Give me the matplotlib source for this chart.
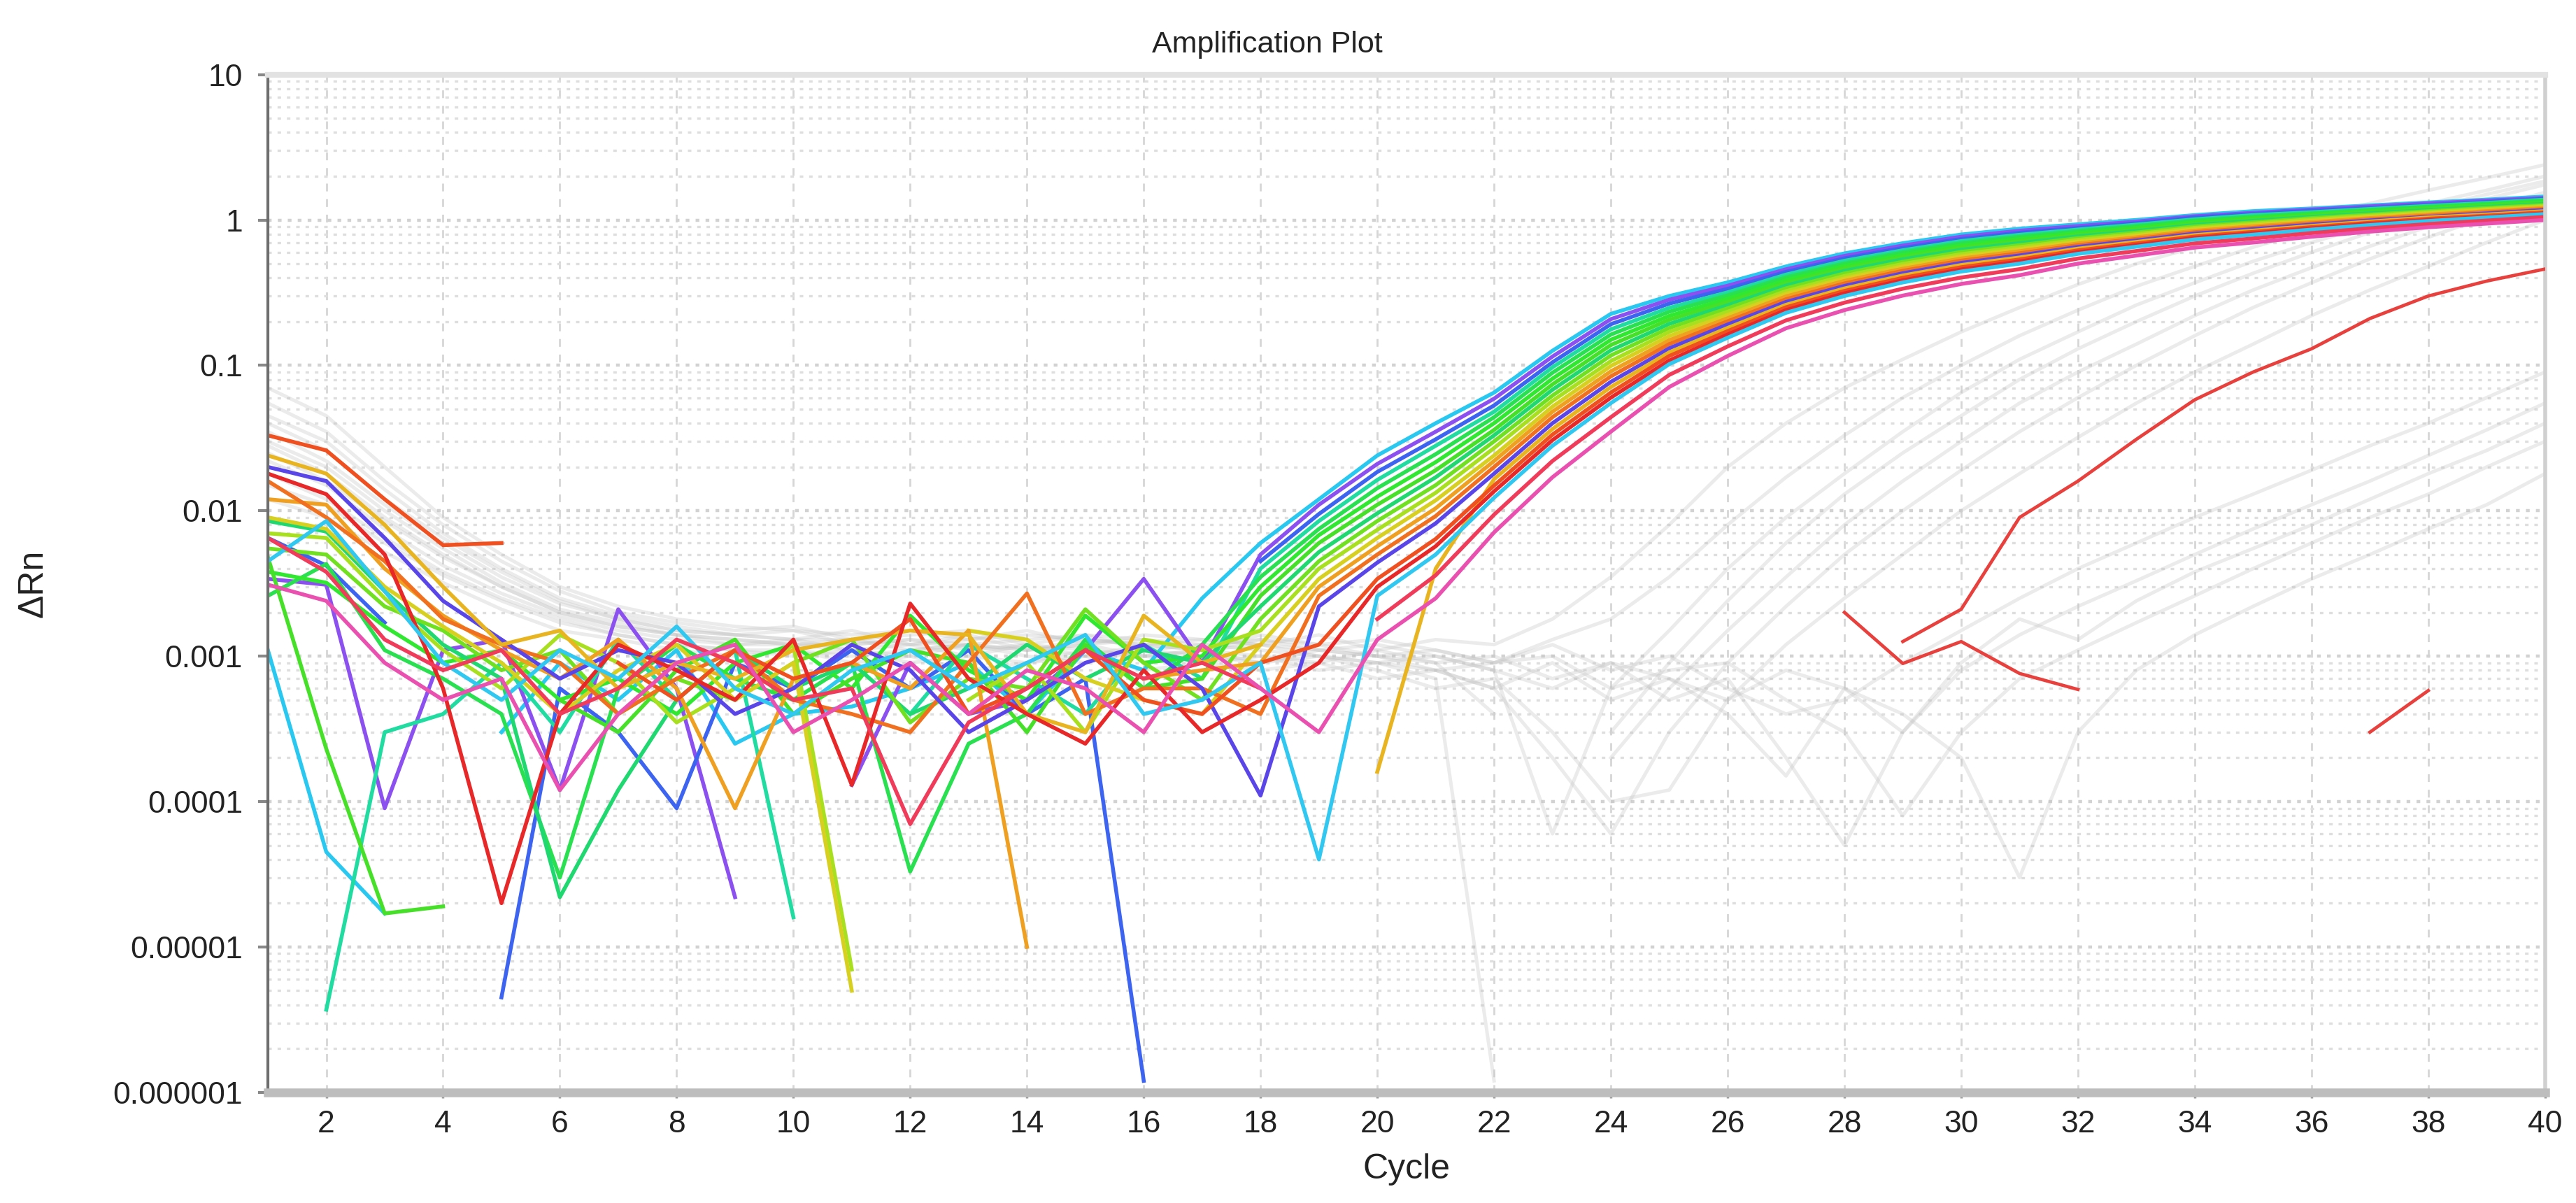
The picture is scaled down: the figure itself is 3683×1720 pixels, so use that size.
import numpy as np
import matplotlib
matplotlib.use('Agg')
import matplotlib.pyplot as plt
from matplotlib.ticker import LogLocator, NullFormatter

plt.rcParams['font.family'] = ['Liberation Sans', 'DejaVu Sans']

N = np.nan  # negative delta Rn -> not drawn on a log axis

cycles = list(range(1, 41))

# amplified wells, delta Rn for cycles 1..40
well_01 = [.0011, .000045, .000017, N, .0003, .0009, .0005, .0011, .00025, .0004,
           .00045, .0006, .0009, .0004, .0011, .0008, .0025, .006, .012, .024,
           .040, .065, .126, .226, .30, .372, .479, .589, .692, .794,
           .871, .933, 1.0, 1.08, 1.15, 1.20, 1.26, 1.32, 1.38, 1.45]
well_02 = [.0034, .0031, .00009, .0011, .0013, .00012, .0021, .0006, .000022, N,
           .00013, .0009, .0004, .0005, .0011, .0034, .0009, .005, .011, .021,
           .035, .059, .115, .208, .283, .353, .458, .566, .667, .767,
           .843, .908, .975, 1.06, 1.12, 1.18, 1.24, 1.30, 1.36, 1.42]
well_03 = [.0065, .0042, .0017, N, .0000045, .0006, .0003, .00009, .0009, .0006,
           .0011, .0006, .0011, .0004, .0007, .0000012, N, .0045, .0095, .0185,
           .031, .053, .105, .192, .266, .336, .440, .545, .643, .741,
           .817, .883, .951, 1.04, 1.10, 1.16, 1.21, 1.27, 1.33, 1.40]
well_04 = [N, .0000037, .0003, .0004, .0009, .0003, .0013, .0005, .0011, .000016,
           N, .0004, .0012, .0007, .0004, .0012, .0007, .004, .0085, .0163,
           .028, .048, .097, .177, .249, .318, .421, .524, .619, .716,
           .791, .859, .929, 1.01, 1.08, 1.13, 1.19, 1.25, 1.31, 1.38]
well_05 = [.0026, .0043, .0011, .0007, .0004, .00003, .0006, .0012, .0007, .0005,
           .0009, .000033, .00025, .0004, .0013, .0006, .0012, .0035, .0075, .0143,
           .0245, .044, .089, .163, .234, .303, .403, .502, .598, .692,
           .766, .836, .906, .989, 1.05, 1.11, 1.17, 1.23, 1.29, 1.36]
well_06 = [.0038, .0032, .0016, .0009, .0011, .0005, .0007, .0004, .0009, .0012,
           .0006, .0019, .0008, .0005, .0019, .0009, .0010, .003, .0068, .0125,
           .0216, .040, .081, .150, .219, .287, .385, .483, .575, .668,
           .740, .813, .883, .966, 1.03, 1.09, 1.15, 1.21, 1.27, 1.33]
well_07 = [.0048, .00023, .000017, .000019, N, .0005, .0003, .0008, .0013, .0004,
           .0007, .0011, .0009, .0003, .0012, .0006, .0007, .0026, .006, .011,
           .019, .036, .074, .138, .206, .273, .369, .465, .556, .646,
           .716, .791, .861, .944, 1.01, 1.07, 1.13, 1.19, 1.25, 1.31]
well_08 = [.0085, .0072, .0028, .0012, .0007, .000022, .00012, .0005, .0011, .0006,
           .0009, .0004, .0006, .0012, .0007, .0011, .0009, .0022, .0052, .0096,
           .017, .033, .068, .127, .193, .259, .354, .446, .536, .624,
           .693, .771, .839, .923, .986, 1.05, 1.11, 1.17, 1.23, 1.29]
well_09 = [.0055, .005, .0022, .0015, .0008, .0011, .0004, .0007, .0005, .0009,
           .0013, .00035, .0007, .0006, .0021, .0009, .0005, .0018, .0045, .0085,
           .015, .030, .062, .117, .181, .247, .339, .429, .516, .603,
           .671, .750, .820, .904, .964, 1.03, 1.09, 1.15, 1.21, 1.27]
well_10 = [.007, .0065, .0025, .0011, .0006, .0014, .0009, .00035, .0006, .0012,
           .000007, N, .0005, .0009, .0003, .0013, .0011, .0015, .004, .0074,
           .0133, .027, .057, .107, .170, .234, .324, .412, .498, .582,
           .650, .730, .800, .883, .944, 1.01, 1.07, 1.13, 1.19, 1.25]
well_11 = [.009, .0075, .003, .0016, .0009, .0004, .0008, .0012, .0005, .0009,
           .000005, N, .0015, .0013, .0007, .0005, .0004, .0012, .0034, .0065,
           .0118, .024, .052, .099, .159, .222, .311, .396, .480, .562,
           .630, .710, .780, .863, .923, .986, 1.05, 1.11, 1.17, 1.23]
well_12 = [.012, .011, .004, .0019, .0011, .0007, .0013, .0006, .00009, .0007,
           .0009, .0006, .0015, .00001, N, .0007, .0008, .0009, .003, .0057,
           .0104, .022, .048, .091, .149, .211, .298, .381, .462, .543,
           .610, .690, .760, .843, .904, .966, 1.03, 1.09, 1.15, 1.21]
well_13 = [.016, .009, .0045, .0018, .0012, .0009, .0004, .0007, .0011, .0005,
           .0004, .0003, .0009, .0027, .0004, .0006, .0006, .0004, .0026, .005,
           .0092, .020, .044, .084, .140, .201, .285, .366, .447, .525,
           .590, .671, .741, .824, .883, .948, 1.01, 1.07, 1.13, 1.19]
well_14 = [.020, .016, .0065, .0024, .0013, .0007, .0011, .0009, .0004, .0006,
           .0012, .0008, .0003, .0005, .0009, .0012, .0006, .00011, .0022, .0044,
           .0082, .018, .040, .077, .131, .191, .273, .352, .430, .507,
           .570, .653, .723, .805, .865, .929, .993, 1.05, 1.11, 1.17]
well_15 = [.024, .018, .008, .003, .0012, .0015, .0006, .0009, .0007, .0011,
           .0013, .0015, .0014, .0004, .0003, .0019, .0009, .0012, N, .00016,
           .004, .0165, .0365, .071, .123, .181, .261, .338, .415, .490,
           .552, .635, .706, .787, .845, .910, .975, 1.04, 1.09, 1.15]
well_16 = [.033, .026, .012, .0058, .006, N, .0009, .0005, .0011, .0007,
           .0009, .0018, .0004, .0006, .0011, .0005, .0004, .0009, .0012, .0034,
           .0064, .0149, .0334, .065, .116, .172, .251, .325, .400, .473,
           .535, .618, .689, .769, .828, .893, .957, 1.02, 1.07, 1.13]
well_17 = [.018, .013, .005, .0006, .00002, .0004, .0012, .0008, .0005, .0013,
           .00013, .0023, .0007, .0004, .00025, .0008, .0003, .0005, .0009, .003,
           .0057, .0136, .0306, .060, .108, .163, .240, .313, .385, .457,
           .518, .601, .671, .752, .809, .875, .940, 1.0, 1.05, 1.11]
well_18 = [.0045, .0085, .0028, .0009, .0005, .0011, .0007, .0016, .0006, .0004,
           .0008, .0011, .0006, .0009, .0014, .0004, .0005, .0009, .00004, .0026,
           .005, .0123, .028, .055, .102, .155, .230, .300, .372, .442,
           .501, .585, .655, .735, .792, .859, .923, .984, 1.04, 1.10]
well_19 = [.0065, .0038, .0013, .0008, .0011, .0004, .0006, .0013, .0009, .0005,
           .0006, .00007, .00035, .0006, .0011, .0007, .0009, .0006, N, .0018,
           .0036, .0094, .022, .044, .086, .135, .204, .270, .337, .402,
           .459, .543, .612, .690, .746, .813, .877, .938, .991, 1.05]
well_20 = [.0031, .0024, .0009, .0005, .0007, .00012, .0004, .0009, .0012, .0003,
           .0005, .0009, .0004, .0008, .0006, .0003, .0012, .0006, .0003, .0013,
           .0025, .0071, .017, .035, .071, .116, .180, .240, .302, .363,
           .417, .501, .569, .646, .700, .767, .832, .891, .944, 1.0]

# wells of the other (greyed out) targets
grey_01 = [.07, .045, .02, .009, .005, .003, .0022, .0018, .0016, .0015,
           .0014, .0015, .0013, .0014, .0013, .0012, .0013, .0012, .0014, .0011,
           .0013, .0012, .0018, .0035, .008, .02, .04, .07, .11, .17,
           .25, .36, .5, .65, .85, 1.05, 1.3, 1.6, 1.95, 2.4]
grey_02 = [.055, .035, .016, .008, .0045, .0028, .002, .0017, .0015, .0016,
           .0013, .0014, .0015, .0012, .0014, .0013, .0011, .0014, .0012, .0013,
           .0011, .0009, .0013, .0018, .0035, .008, .017, .033, .06, .1,
           .16, .24, .35, .48, .65, .85, 1.05, 1.3, 1.6, 2.0]
grey_03 = [.045, .03, .014, .007, .004, .0025, .0019, .0016, .0014, .0013,
           .0015, .0012, .0013, .0015, .0012, .0014, .0013, .0012, .0011, .0012,
           .001, .0008, .00006, .0006, .0015, .004, .009, .018, .035, .065,
           .11, .17, .26, .37, .52, .7, .92, 1.2, 1.5, 1.85]
grey_04 = [.035, .022, .011, .006, .0035, .0023, .0018, .0015, .0014, .0015,
           .0012, .0013, .0012, .0013, .0014, .0011, .0012, .0013, .0011, .0010,
           .0009, .0004, N, .0003, .0009, .0024, .006, .013, .025, .045,
           .08, .13, .2, .3, .43, .6, .82, 1.1, 1.4, 1.75]
grey_05 = [.028, .018, .009, .005, .003, .002, .0016, .0014, .0013, .0012,
           .0013, .0011, .0012, .0011, .0012, .0013, .0012, .0011, .0010, .0009,
           .0007, .0000012, N, .0002, .0006, .0015, .0035, .008, .016, .03,
           .055, .09, .14, .22, .33, .47, .66, .9, 1.2, 1.55]
grey_06 = [.022, .015, .0075, .0042, .0027, .0019, .0015, .0013, .0012, .0012,
           .0011, .0012, .0010, .0012, .0011, .0010, .0011, .0012, .0010, .0009,
           .0008, .0006, .0002, .00006, .0003, .0009, .0022, .005, .01, .019,
           .035, .06, .1, .16, .25, .37, .54, .76, 1.05, 1.4]
grey_07 = [.018, .012, .0065, .0038, .0025, .0018, .0014, .0012, .0011, .0011,
           .0010, .0011, .0012, .0010, .0009, .0011, .0010, .0009, .0010, .0008,
           .0006, .0007, .0003, .0001, .00012, .0005, .0012, .0025, .005, .01,
           .018, .032, .055, .09, .14, .22, .33, .48, .7, 1.0]
grey_08 = [.04, .026, .012, .0065, .0038, .0024, .0018, .0015, .0014, .0013,
           .0013, .0012, .0014, .0011, .0013, .0012, .0011, .0013, .0012, .0010,
           .0011, .0009, .0012, .0008, .0010, .0006, .0004, .0005, .0009, .0015,
           .0025, .004, .006, .009, .013, .019, .028, .04, .06, .09]
grey_09 = [.03, .02, .01, .0055, .0032, .0021, .0017, .0014, .0013, .0012,
           .0012, .0013, .0011, .0012, .0010, .0012, .0011, .0010, .0009, .0011,
           .0009, .0010, .0007, .0009, .0005, .0007, .0002, .00005, .0003, .0008,
           .0014, .0022, .0033, .005, .0075, .011, .016, .024, .036, .055]
grey_10 = [.025, .016, .0085, .0048, .003, .002, .0016, .0014, .0012, .0013,
           .0011, .0010, .0012, .0011, .0012, .0010, .0011, .0009, .0011, .0010,
           .0008, .0009, .0010, .0006, .0008, .0009, .0005, .0003, .00008, .0003,
           .0007, .0011, .0017, .0026, .004, .006, .009, .013, .02, .03]
grey_11 = [.015, .011, .006, .0036, .0024, .0017, .0014, .0012, .0011, .0010,
           .0011, .0009, .0010, .0009, .0011, .0010, .0009, .0010, .0008, .0009,
           .0010, .0008, .0006, .0009, .0007, .0005, .0008, .0006, .0004, .0002,
           .00003, .0003, .0008, .0014, .0022, .0034, .005, .0075, .011, .018]
grey_12 = [.012, .009, .0052, .0032, .0021, .0015, .0013, .0011, .0010, .0011,
           .0009, .0010, .0008, .0009, .0010, .0008, .0009, .0008, .0009, .0007,
           .0008, .0006, .0009, .0005, .0007, .0004, .00015, .0006, .0003, .0009,
           .0018, .0013, .0024, .0038, .0055, .008, .012, .018, .026, .04]

# late / failed red wells
red_01 = [N] * 27 + [.002, .00089, .00126, .00076, .00059] + [N] * 8
red_02 = [N] * 28 + [.00126, .0021, .009, .016, .031, .058, .09, .13, .21, .30, .38, .46]
red_03 = [N] * 36 + [.0003, .00058] + [N] * 2

x_ticks = list(range(2, 41, 2))
y_ticks = [1e-6, 1e-5, 1e-4, 1e-3, 1e-2, 1e-1, 1, 10]
y_tick_labels = ['0.000001', '0.00001', '0.0001', '0.001', '0.01', '0.1', '1', '10']

wells = [well_01, well_02, well_03, well_04, well_05, well_06, well_07,
         well_08, well_09, well_10, well_11, well_12, well_13, well_14,
         well_15, well_16, well_17, well_18, well_19, well_20]
greys = [grey_01, grey_02, grey_03, grey_04, grey_05, grey_06,
         grey_07, grey_08, grey_09, grey_10, grey_11, grey_12]
reds = [red_01, red_02, red_03]

well_colors = ['#28c8f0', '#8c50f0', '#3c64f0', '#20dca0', '#28e050',
               '#30e830', '#46e028', '#20d870', '#70e020', '#a8e020',
               '#d8d020', '#f0a020', '#f07020', '#5a46e8', '#e8b420',
               '#f05020', '#e82828', '#30c8f0', '#f03c5a', '#ea50b0']

fig = plt.figure(figsize=(36.83, 17.20), dpi=100)
ax = fig.add_axes([0.104, 0.092, 0.884, 0.846])
ax.set_yscale('log')
ax.set_xlim(1, 40)
ax.set_ylim(1e-6, 10)

# grid: dotted at every log step, dashed verticals at even cycles
ax.yaxis.set_minor_locator(LogLocator(base=10, subs=np.arange(2, 10)))
ax.yaxis.set_minor_formatter(NullFormatter())
ax.grid(True, axis='y', which='minor', color='#dedede', lw=2.4,
        linestyle=(0, (1.5, 2.5)))
ax.grid(True, axis='y', which='major', color='#d2d2d2', lw=3.2,
        linestyle=(0, (1.2, 2.0)))
ax.grid(True, axis='x', which='major', color='#d6d6d6', lw=2.0,
        linestyle=(0, (4, 4)))
ax.set_axisbelow(True)

for vals in greys:
    ax.plot(cycles, np.array(vals, dtype=float), color='#c0c0c0',
            alpha=0.3, lw=3.6, zorder=1)

for vals, col in zip(wells, well_colors):
    ax.plot(cycles, np.array(vals, dtype=float), color=col, lw=4.0, zorder=2)

for vals in reds:
    ax.plot(cycles, np.array(vals, dtype=float), color='#e8403c', lw=3.4, zorder=3)

ax.set_xticks(x_ticks)
ax.set_yticks(y_ticks)
ax.set_yticklabels(y_tick_labels)
ax.tick_params(axis='y', which='minor', length=0)
ax.tick_params(axis='x', which='major', direction='out', length=6, width=2.5,
               color='#999999', pad=12, labelsize=32, labelcolor='#222222')
ax.tick_params(axis='y', which='major', direction='out', length=10, width=3,
               color='#888888', pad=16, labelsize=32, labelcolor='#222222')

ax.spines['left'].set_color('#6e6e6e')
ax.spines['left'].set_linewidth(3)
ax.spines['bottom'].set_color('#bdbdbd')
ax.spines['bottom'].set_linewidth(9)
ax.spines['top'].set_color('#e2e2e2')
ax.spines['top'].set_linewidth(6)
ax.spines['right'].set_color('#d0d0d0')
ax.spines['right'].set_linewidth(4)

fig.text(0.492, 0.963, 'Amplification Plot', ha='center', va='center',
         fontsize=31, color='#222222')
fig.text(0.546, 0.028, 'Cycle', ha='center', va='center', fontsize=36,
         color='#222222')
fig.text(0.0128, 0.515, 'ΔRn', ha='center', va='center', rotation=90,
         fontsize=36, color='#222222')

fig.savefig('out.png', dpi=100)
